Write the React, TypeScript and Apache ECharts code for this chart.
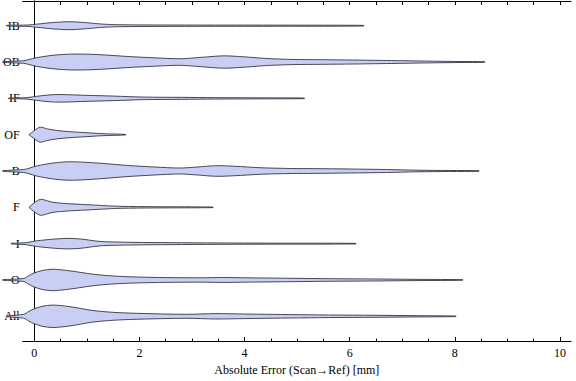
import { useEffect, useRef } from "react";
import * as echarts from "echarts";

// Categories, top to bottom
const CATEGORIES = ["IB", "OB", "IF", "OF", "B", "F", "I", "O", "All"];
const X_MAJOR_TICKS = [0, 2, 4, 6, 8, 10];
const X_MINOR_TICKS = [0, 0.5, 1, 1.5, 2, 2.5, 3, 3.5, 4, 4.5, 5, 5.5, 6, 6.5, 7, 7.5, 8, 8.5, 9, 9.5, 10];
const X_TITLE = "Absolute Error (Scan\u2192Ref) [mm]";

// Violin profiles: error value and estimated density (half-width)
const IB_X = [-0.53, -0.2, -0.1, 0.04, 0.36, 0.68, 1.0, 1.3, 1.6, 2.5, 4.0, 5.5, 6.27];
const IB_W = [0.3, 0.6, 0.8, 1.5, 3.2, 4.0, 3.0, 1.6, 1.0, 0.7, 0.6, 0.5, 0.3];

const OB_X = [-0.6, -0.2, -0.1, 0.04, 0.36, 0.74, 1.2, 1.8, 2.3, 2.77, 3.2, 3.6, 4.0, 4.4, 4.9, 5.5, 6.05, 6.6, 7.0, 7.6, 8.1, 8.57];
const OB_W = [0.3, 1.3, 2.5, 4.3, 6.8, 8.0, 7.5, 5.5, 4.2, 3.3, 4.8, 6.2, 5.2, 3.6, 2.6, 2.3, 2.0, 1.6, 1.3, 0.8, 0.5, 0.3];

const IF_X = [-0.49, -0.2, -0.1, 0.04, 0.3, 0.52, 1.0, 1.5, 2.07, 2.8, 3.45, 4.3, 5.14];
const IF_W = [0.3, 0.6, 1.0, 2.0, 3.5, 3.8, 3.0, 2.3, 1.3, 1.0, 0.7, 0.5, 0.3];

const OF_X = [-0.1, 0.0, 0.11, 0.25, 0.42, 0.68, 0.93, 1.31, 1.74];
const OF_W = [0.05, 4.0, 7.5, 5.8, 4.3, 3.0, 2.2, 1.0, 0.3];

const B_X = [-0.6, -0.2, -0.1, 0.04, 0.36, 0.68, 1.2, 1.8, 2.3, 2.76, 3.1, 3.45, 3.8, 4.3, 4.9, 5.3, 6.0, 6.7, 7.3, 7.9, 8.46];
const B_W = [0.3, 1.5, 2.7, 5.0, 8.0, 9.3, 8.0, 5.5, 4.0, 3.0, 4.0, 5.3, 4.8, 3.3, 2.5, 2.4, 2.0, 1.5, 0.8, 0.5, 0.3];

const F_X = [-0.1, 0.0, 0.12, 0.25, 0.36, 0.6, 0.99, 1.3, 1.63, 2.3, 3.4];
const F_W = [0.05, 4.5, 8.0, 6.5, 5.0, 3.8, 2.7, 1.8, 1.0, 0.6, 0.3];

const I_X = [-0.44, -0.2, -0.1, 0.04, 0.36, 0.68, 0.95, 1.12, 1.31, 1.9, 2.58, 3.5, 4.5, 6.12];
const I_W = [0.3, 0.8, 1.5, 2.8, 4.5, 5.3, 4.3, 3.0, 2.0, 1.3, 1.0, 0.7, 0.5, 0.3];

const O_X = [-0.6, -0.2, -0.1, 0.0, 0.15, 0.36, 0.7, 1.12, 1.5, 1.94, 2.5, 3.2, 3.58, 4.0, 4.9, 5.6, 6.5, 7.3, 8.15];
const O_W = [0.3, 1.5, 4.5, 7.0, 9.5, 10.8, 9.0, 5.8, 4.0, 3.0, 2.4, 2.2, 2.5, 2.2, 1.7, 1.3, 1.0, 0.6, 0.3];

const ALL_X = [-0.53, -0.2, -0.1, 0.0, 0.15, 0.36, 0.7, 1.12, 1.5, 1.94, 2.88, 3.45, 4.0, 4.9, 5.6, 6.5, 7.3, 8.02];
const ALL_W = [0.3, 2.0, 5.0, 7.5, 10.0, 11.3, 9.5, 5.8, 4.0, 3.0, 2.0, 2.7, 2.3, 1.7, 1.3, 1.0, 0.6, 0.3];

const PROFILE_X = [IB_X, OB_X, IF_X, OF_X, B_X, F_X, I_X, O_X, ALL_X];
const PROFILE_W = [IB_W, OB_W, IF_W, OF_W, B_W, F_W, I_W, O_W, ALL_W];

const WIDTH_SCALE = 1 / 36.5;
const FONT = "Liberation Serif";
const N = CATEGORIES.length;
const Y_TICKS = CATEGORIES.map((_, i) => N - i);

export default function App() {
  const ref = useRef<HTMLDivElement>(null);
  useEffect(() => {
    if (!ref.current) return;
    const chart = echarts.init(ref.current, undefined, { renderer: "svg" });
    const xBase = { type: "value", min: -0.22, max: 10.21, gridIndex: 0, splitLine: { show: false } };
    const yBase = { type: "value", min: 0.32, max: 9.68, gridIndex: 0, splitLine: { show: false } };
    const option: any = {
      animation: false,
      grid: { left: 20, right: 5, top: 1, bottom: 40, containLabel: false },
      xAxis: [
        {
          ...xBase,
          position: "bottom",
          name: X_TITLE,
          nameLocation: "middle",
          nameGap: 23,
          nameTextStyle: { fontFamily: FONT, fontSize: 12, color: "#000" },
          axisLine: { show: true, lineStyle: { color: "#000", width: 1 } },
          axisTick: { show: true, inside: true, length: 4, customValues: X_MAJOR_TICKS, lineStyle: { color: "#000" } },
          axisLabel: { show: true, customValues: X_MAJOR_TICKS, margin: 6, fontFamily: FONT, fontSize: 12, color: "#000" },
        },
        {
          ...xBase,
          position: "bottom",
          axisLine: { show: false },
          axisTick: { show: true, inside: true, length: 2.5, customValues: X_MINOR_TICKS, lineStyle: { color: "#000" } },
          axisLabel: { show: false },
        },
        {
          ...xBase,
          position: "top",
          axisLine: { show: true, lineStyle: { color: "#000", width: 1 } },
          axisTick: { show: true, inside: true, length: 4, customValues: X_MINOR_TICKS, lineStyle: { color: "#000" } },
          axisLabel: { show: false },
        },
      ],
      yAxis: [
        {
          ...yBase,
          position: "left",
          axisLine: { show: true, lineStyle: { color: "#000", width: 1 } },
          axisTick: { show: true, inside: true, length: 4, customValues: Y_TICKS, lineStyle: { color: "#000" } },
          axisLabel: {
            show: true,
            customValues: Y_TICKS,
            margin: 3,
            fontFamily: FONT,
            fontSize: 12,
            color: "#000",
            formatter: (v: number) => CATEGORIES[N - Math.round(v)] ?? "",
          },
        },
        {
          ...yBase,
          position: "right",
          axisLine: { show: true, lineStyle: { color: "#000", width: 1 } },
          axisTick: { show: true, inside: true, length: 4, customValues: Y_TICKS, lineStyle: { color: "#000" } },
          axisLabel: { show: false },
        },
      ],
      series: [
        {
          type: "custom",
          xAxisIndex: 0,
          yAxisIndex: 0,
          clip: false,
          encode: { x: 0, y: 1 },
          data: CATEGORIES.map((_, i) => [0, N - i]),
          renderItem: (params: any, api: any) => {
            const i = params.dataIndex;
            const xs = PROFILE_X[i];
            const ws = PROFILE_W[i];
            const yv = api.value(1);
            const unit = api.size([0, 1])[1];
            const upper: number[][] = [];
            const lower: number[][] = [];
            for (let k = 0; k < xs.length; k++) {
              const p = api.coord([xs[k], yv]);
              const h = ws[k] * WIDTH_SCALE * unit;
              upper.push([p[0], p[1] - h]);
              lower.unshift([p[0], p[1] + h]);
            }
            return {
              type: "polygon",
              shape: { points: upper.concat(lower), smooth: 0.3 },
              style: { fill: "#c9cef4", stroke: "rgba(45,45,55,0.85)", lineWidth: 1 },
            };
          },
        },
      ],
    };
    chart.setOption(option);
    return () => chart.dispose();
  }, []);
  return <div ref={ref} style={{ position: "absolute", left: 0, top: 0, width: 576, height: 381 }} />;
}
